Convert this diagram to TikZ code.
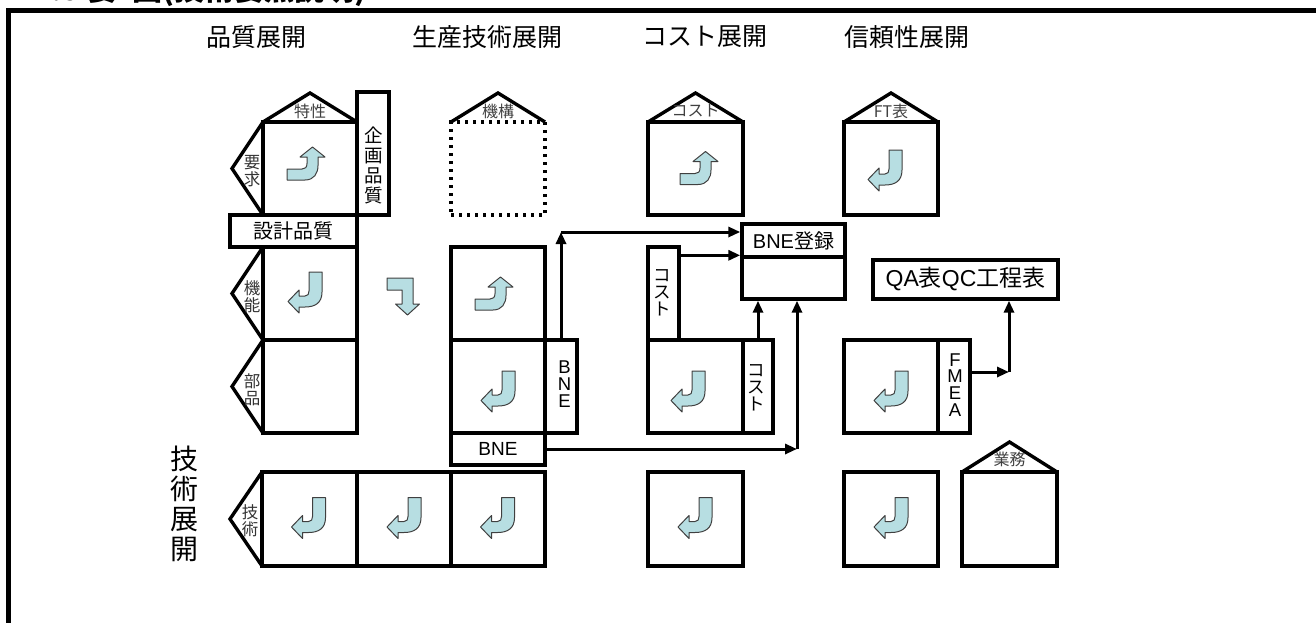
\documentclass[tikz,border=0pt]{standalone}
\usepackage{fontspec}
\setmainfont{Liberation Sans}
\newfontfamily\jp{Noto Sans CJK JP}
\usetikzlibrary{arrows.meta}
\definecolor{iconblue}{HTML}{B7DEE2}
\tikzset{
  box/.style={draw, line width=3.4pt, inner sep=0pt},
  dotbox/.style={draw, line width=3.4pt, dash pattern=on 3pt off 5pt, inner sep=0pt},
  tri/.style={draw, line width=3.4pt, line join=miter},
  conn/.style={draw, line width=3pt, -{Triangle[length=12pt,width=10pt]}},
  icon/.style={fill=iconblue, draw=black!75, line width=1pt, line join=round},
  hdr/.style={font=\jp\fontsize{25}{30}\selectfont},
  rooflbl/.style={font=\jp\fontsize{16}{18}\selectfont, text=black!75, inner sep=0pt},
  sidelbl/.style={font=\jp\fontsize{16.5}{17}\selectfont, text=black!80, align=center, inner sep=0pt},
  vlbl/.style={font=\jp\fontsize{18.5}{20}\selectfont, align=center, inner sep=0pt},
  vlat/.style={font=\fontsize{18.5}{16.8}\selectfont, align=center, inner sep=0pt},
  vkana/.style={font=\jp\fontsize{17.5}{16.8}\selectfont, align=center, inner sep=0pt},
  hook/.pic={\path[icon] (4,-20) -- (17,-20) -- (17,0) .. controls (17,11) and (10,15) .. (0,15) -- (-6,15) -- (-6,21) -- (-17,9.5) -- (-6,-2) -- (-6,4) -- (0,4) .. controls (3,4) and (4,2) .. (4,-1) -- cycle;},
  upturn/.pic={\path[icon] (-20,5.5) -- (-20,16.5) -- (-2,16.5) .. controls (7,16.5) and (11,10) .. (11,2) -- (11,-6.5) -- (18,-6.5) -- (5.5,-16.5) -- (-7,-6.5) -- (0,-6.5) -- (0,0) .. controls (0,4) and (-2,5.5) .. (-5,5.5) -- cycle;},
}
\begin{document}
\begin{tikzpicture}[x=1pt,y=-1pt]
\useasboundingbox (0,0) rectangle (1316,623);
\clip (0,0) rectangle (1316,623);
% title (cut at top) and frame
\node[anchor=base west, inner sep=0pt, font=\jp\bfseries\fontsize{30}{30}\selectfont] (title) at (33,1) {2.9 要\,\,\,図(技術要点説明)};
\draw[line width=5.5pt] (8.5,640) -- (8.5,10.5) -- (1330,10.5);
% headers
\node[hdr] (h1) at (256.5,37) {品質展開};
\node[hdr] (h2) at (487.5,37) {生産技術展開};
\node[hdr] (h3) at (705,37) {コスト展開};
\node[hdr] (h4) at (906.5,37) {信頼性展開};
\node[font=\jp\fontsize{28}{30}\selectfont, align=center, inner sep=0pt] (h5) at (184,504) {技\\術\\展\\開};
% ---------- quality column
\draw[tri] (263,122) -- (310,93) -- (357,122);
\node[rooflbl] (l1) at (310,111) {特性};
\node[box, minimum width=94pt, minimum height=93pt] (q1) at (310,168.5) {};
\draw[tri] (263,122) -- (232,168.5) -- (263,215);
\node[sidelbl] (l2) at (252,171) {要\\求};
\node[box, minimum width=32pt, minimum height=123pt] (kq) at (373,153.5) {};
\node[vlbl] (l3) at (374,165) {企\\画\\品\\質};
\node[box, minimum width=127pt, minimum height=32pt, font=\jp\fontsize{20}{22}\selectfont] (sq) at (293.5,231) {設計品質};
\node[box, minimum width=94pt, minimum height=93pt] (q2) at (310,293.5) {};
\draw[tri] (263,247) -- (232,293.5) -- (263,340);
\node[sidelbl] (l4) at (252,297) {機\\能};
\node[box, minimum width=94pt, minimum height=93pt] (q3) at (310,386.5) {};
\draw[tri] (263,340) -- (232,386.5) -- (263,433);
\node[sidelbl] (l5) at (252,390) {部\\品};
\pic at (307,163.5) {upturn};
\pic at (305,292) {hook};
% turn arrow between columns
\path[icon] (387,278) -- (413,278) -- (413,304) -- (419.5,304) -- (407.5,315) -- (395.5,304) -- (402,304) -- (402,290) -- (387,290) -- cycle;
% ---------- production technology column
\draw[tri] (451,122) -- (498,93) -- (545,122);
\node[rooflbl] (l6) at (498,111) {機構};
\node[dotbox, minimum width=94pt, minimum height=93pt] (p1) at (498,168.5) {};
\node[box, minimum width=94pt, minimum height=93pt] (p2) at (498,293.5) {};
\node[box, minimum width=94pt, minimum height=93pt] (p3) at (498,386.5) {};
\node[box, minimum width=32pt, minimum height=93pt] (bnev) at (561,386.5) {};
\node[vlat] (l13) at (564.5,384) {B\\N\\E};
\node[box, minimum width=94pt, minimum height=32pt, font=\fontsize{19}{20}\selectfont] (bneh) at (498,449) {BNE};
\pic at (495,293.5) {upturn};
\pic at (498,391) {hook};
% ---------- cost column
\draw[tri] (648,122) -- (695.5,93) -- (743,122);
\node[rooflbl] (l7) at (695.5,111) {コスト};
\node[box, minimum width=95pt, minimum height=93pt] (c1) at (695.5,168.5) {};
\node[box, minimum width=31pt, minimum height=93pt] (cost2) at (663.5,293.5) {};
\node[vkana] (l8) at (662.5,293) {コ\\ス\\ト};
\node[box, minimum width=95pt, minimum height=93pt] (c3) at (695.5,386.5) {};
\node[box, minimum width=30pt, minimum height=93pt] (cost4) at (758,386.5) {};
\node[vkana] (l9) at (756.5,387.5) {コ\\ス\\ト};
\pic at (700,168) {upturn};
\pic at (688,391) {hook};
% BNE registration box
\node[box, minimum width=103pt, minimum height=33pt, font=\fontsize{20}{22}\selectfont] (reg) at (793.5,240.5) {BNE{\jp 登録}};
\node[box, minimum width=103pt, minimum height=42pt] (reglow) at (793.5,278) {};
\node[box, minimum width=185pt, minimum height=39pt, font=\fontsize{23}{25}\selectfont] (qa) at (965.5,279.5) {QA{\jp 表}QC{\jp 工程表}};
% ---------- reliability column
\draw[tri] (844,122) -- (891,93) -- (938,122);
\node[rooflbl] (l10) at (891,111) {FT表};
\node[box, minimum width=94pt, minimum height=93pt] (r1) at (891,168.5) {};
\node[box, minimum width=94pt, minimum height=93pt] (r3) at (891,386.5) {};
\node[box, minimum width=32pt, minimum height=93pt] (fmea) at (954,386.5) {};
\node[vlat] (l14) at (955,385) {F\\M\\E\\A};
\pic at (885,170) {hook};
\pic at (891,391) {hook};
% ---------- technology row
\draw[tri] (262,472) -- (230,519) -- (262,566);
\node[sidelbl] (l11) at (250,521) {技\\術};
\node[box, minimum width=95pt, minimum height=94pt] (t1) at (309.5,519) {};
\node[box, minimum width=94pt, minimum height=94pt] (t2) at (404,519) {};
\node[box, minimum width=94pt, minimum height=94pt] (t3) at (498,519) {};
\node[box, minimum width=95pt, minimum height=94pt] (t4) at (695.5,519) {};
\node[box, minimum width=94pt, minimum height=94pt] (t5) at (891,519) {};
\draw[tri] (962,472) -- (1009.5,442) -- (1057,472);
\node[rooflbl] (l12) at (1009.5,459) {業務};
\node[box, minimum width=95pt, minimum height=94pt] (t6) at (1009.5,519) {};
\pic at (308.5,517.5) {hook};
\pic at (404,517.5) {hook};
\pic at (497.5,517.5) {hook};
\pic at (695,517.5) {hook};
\pic at (891,517.5) {hook};
% ---------- connectors
\coordinate (k1) at (561,232);
\draw[conn] (bnev.north) -- (k1);
\draw[conn] (k1) -- (k1 -| reg.west);
\draw[conn] (cost2.east |- reglow.north) -- (reglow.north west);
\draw[conn] (cost4.north) -- (cost4.north |- reglow.south);
\coordinate (k3) at (797,449);
\draw[conn] (bneh.east) -- (k3);
\draw[conn] (k3) -- (k3 |- reglow.south);
\coordinate (k4) at (1009,372);
\draw[conn] (fmea.east |- k4) -- (k4);
\draw[conn] (k4) -- (k4 |- qa.south);
\end{tikzpicture}
\end{document}
